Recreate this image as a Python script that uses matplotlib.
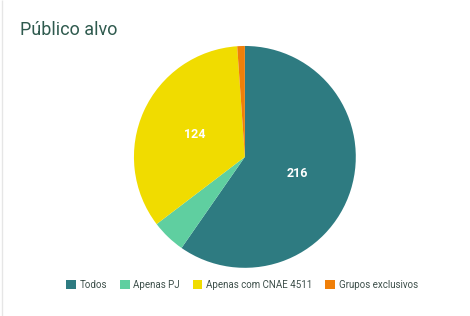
import matplotlib
matplotlib.use('Agg')
import matplotlib.pyplot as plt
from matplotlib.patches import Rectangle

categories = ['Todos', 'Apenas PJ', 'Apenas com CNAE 4511', 'Grupos exclusivos']
values = [216, 18, 124, 4]
colors = ['#2e7b81', '#5fcfa0', '#f0dc00', '#f07f09']

plt.rcParams['font.family'] = ['Roboto', 'DejaVu Sans']

fig = plt.figure(figsize=(4.7, 3.16), dpi=100)
fig.patch.set_facecolor('white')

# faint card border on the left
fig.add_artist(Rectangle((0.004, 0.0), 0.0, 1.0, transform=fig.transFigure,
                         edgecolor='#e6e6e6', linewidth=1, fill=False))

ax = fig.add_axes([0.285, 0.152, 0.472, 0.703])


def label_fmt(pct):
    val = round(pct * sum(values) / 100)
    return str(val) if pct > 10 else ''


wedges, texts, autotexts = ax.pie(values, colors=colors, startangle=90, counterclock=False,
                                  autopct=label_fmt, pctdistance=0.5,
                                  wedgeprops=dict(linewidth=0))
for t in autotexts:
    t.set_color('white')
    t.set_fontweight('bold')
    t.set_fontsize(9)
ax.set_xlim(-1, 1)
ax.set_ylim(-1, 1)
ax.set_aspect('equal')
ax.axis('off')

fig.text(0.043, 0.905, 'Público alvo', fontsize=13, color='#2f5a4e', va='center', ha='left')

leg = fig.legend(wedges, categories, loc='center', bbox_to_anchor=(0.515, 0.098), ncol=4,
                 frameon=False, fontsize=7, handlelength=1.0, handleheight=1.0,
                 handletextpad=0.4, columnspacing=1.3)
for t in leg.get_texts():
    t.set_color('#3d4f4a')

fig.savefig('out.png', dpi=100, facecolor='white')
